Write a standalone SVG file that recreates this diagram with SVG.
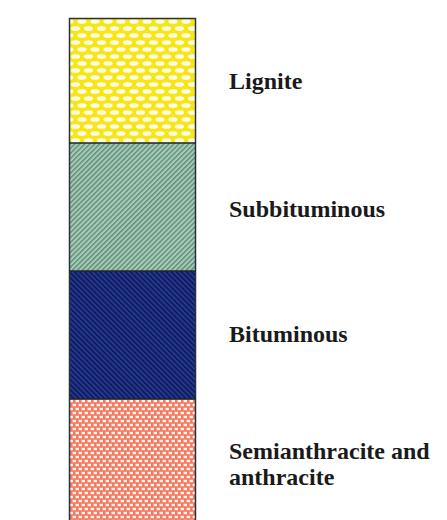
<svg xmlns="http://www.w3.org/2000/svg" width="447" height="520" viewBox="0 0 447 520">
<style>
text{font-family:"Liberation Serif","Times New Roman",serif;font-weight:bold;font-size:24px;fill:#1a1a1a}
.sep{stroke:#1c2433;stroke-width:1.6}
.frame{fill:none;stroke:#2a3040;stroke-width:1.5}
</style>
<defs>
<pattern id="pYellow" patternUnits="userSpaceOnUse" x="69" y="18" width="13" height="14">
<rect width="13" height="14" fill="#f6e617"/>
<ellipse cx="0" cy="3.5" rx="4.6" ry="2.3" fill="#fffde8"/>
<ellipse cx="13" cy="3.5" rx="4.6" ry="2.3" fill="#fffde8"/>
<ellipse cx="6.5" cy="10.5" rx="4.6" ry="2.3" fill="#fffde8"/>
</pattern>
<pattern id="pGreen" patternUnits="userSpaceOnUse" width="3.5" height="3.5" patternTransform="rotate(45)">
<rect width="3.5" height="3.5" fill="#a6cbb6"/>
<rect width="1.4" height="3.5" fill="#5f8c77"/>
</pattern>
<pattern id="pNavy" patternUnits="userSpaceOnUse" width="3.6" height="3.6" patternTransform="rotate(-45)">
<rect width="3.6" height="3.6" fill="#23379a"/>
<rect width="1.7" height="3.6" fill="#111c4e"/>
</pattern>
<pattern id="pPink" patternUnits="userSpaceOnUse" x="69" y="399" width="6" height="8">
<rect width="6" height="8" fill="#f47a62"/>
<rect x="0.6" y="0.8" width="3.4" height="2.4" fill="#fff4ee"/>
<rect x="3.6" y="4.8" width="3.4" height="2.4" fill="#fff4ee"/>
<rect x="-2.4" y="4.8" width="3.4" height="2.4" fill="#fff4ee"/>
</pattern>
</defs>
<rect width="447" height="520" fill="#ffffff"/>
<g id="lignite">
<rect x="69" y="18" width="127" height="125" fill="url(#pYellow)"/>
<text x="229" y="89">Lignite</text>
</g>
<g id="subbituminous">
<rect x="69" y="143" width="127" height="128" fill="url(#pGreen)"/>
<text x="229" y="217">Subbituminous</text>
</g>
<g id="bituminous">
<rect x="69" y="271" width="127" height="128" fill="url(#pNavy)"/>
<text x="229" y="342">Bituminous</text>
</g>
<g id="anthracite">
<rect x="69" y="399" width="127" height="122" fill="url(#pPink)"/>
<text x="229" y="459">Semianthracite and</text>
<text x="229" y="485">anthracite</text>
</g>
<g id="frame">
<path class="frame" d="M69.5,521 V18.5 H195.5 V521"/>
<line class="sep" x1="69" y1="143" x2="196" y2="143"/>
<line class="sep" x1="69" y1="271" x2="196" y2="271"/>
<line class="sep" x1="69" y1="399" x2="196" y2="399"/>
</g>
</svg>
